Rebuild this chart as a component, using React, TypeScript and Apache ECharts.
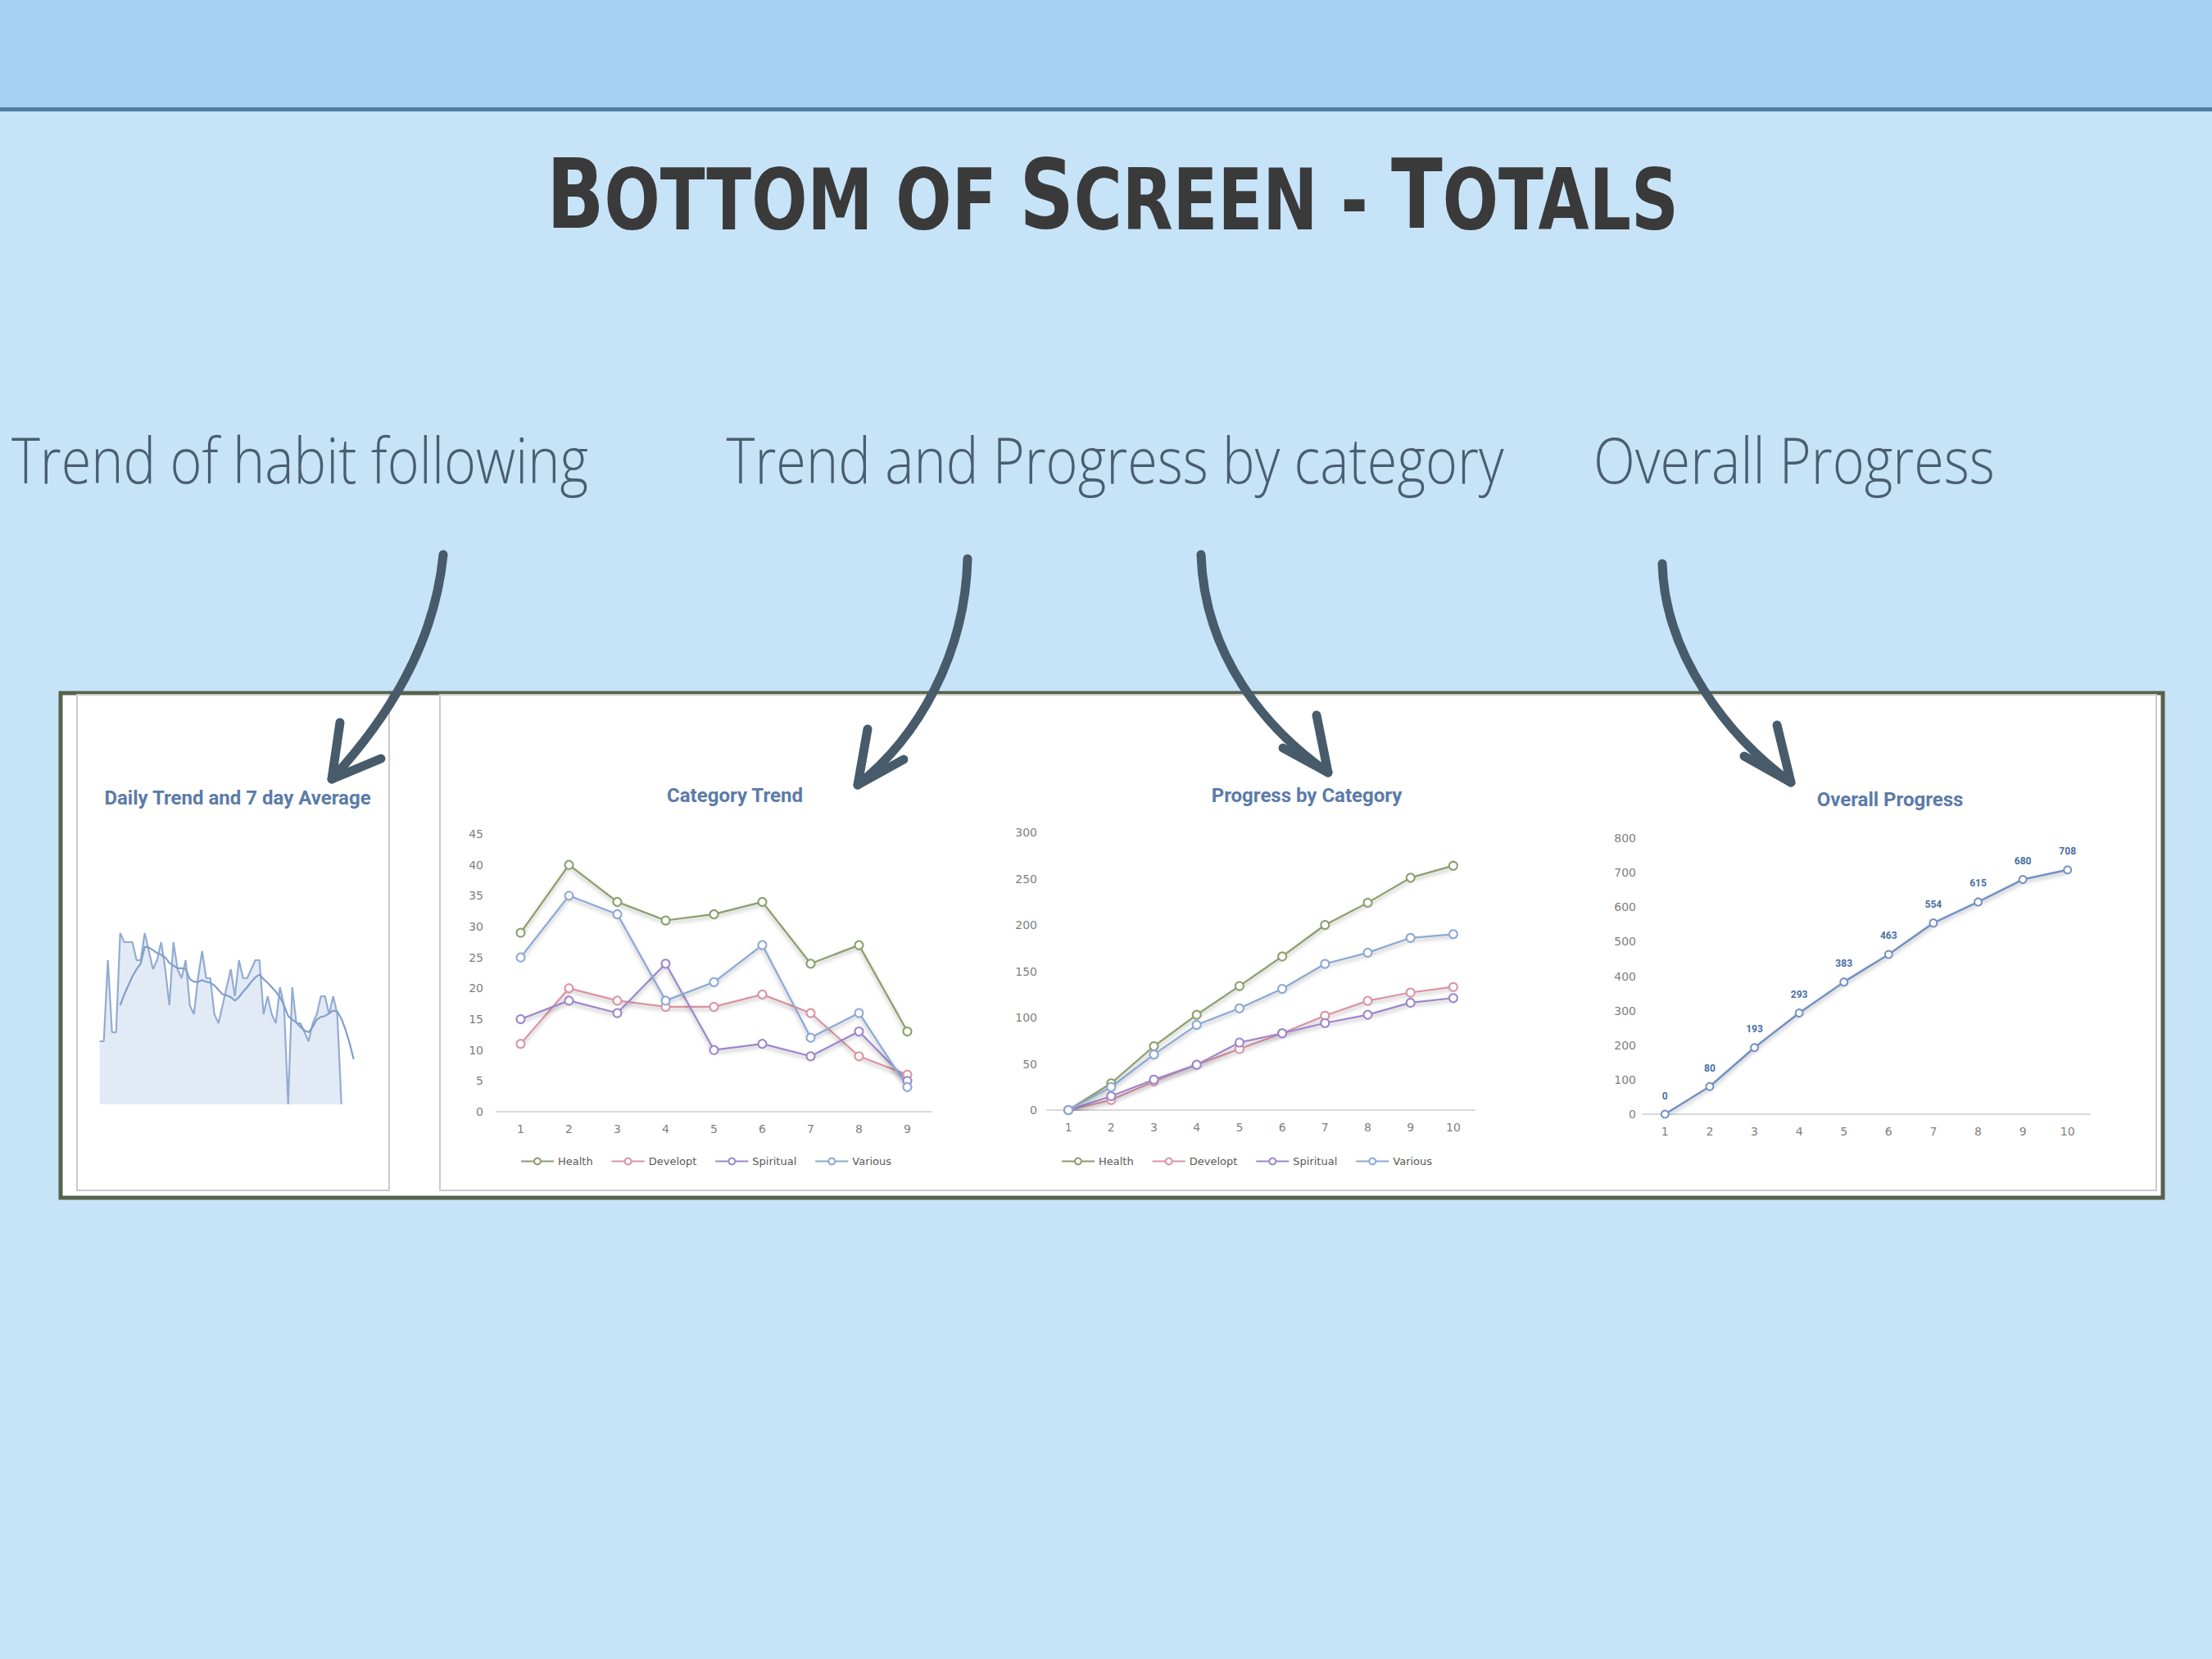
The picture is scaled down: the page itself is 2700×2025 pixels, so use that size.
import React, { useEffect, useRef } from 'react';
import * as echarts from 'echarts';

// ---------- DATA ----------
const DAY_LABELS = Array.from({ length: 63 }, (_, i) => String(i + 1));
const DAILY_TOTALS = [
  7, 7, 16, 8, 8, 19, 18, 18, 18, 16, 16, 19, 17, 15, 16, 18, 15, 11, 18, 15,
  14, 16, 11, 10, 14, 17, 14, 14, 10, 9, 11, 13, 15, 12, 16, 14, 14, 15, 16, 16,
  10, 12, 10, 9, 13, 11, 0, 13, 9, 9, 8, 7, 9, 10, 12, 12, 10, 12, 10, 0,
];
const SEVEN_DAY_AVG = [
  '-', '-', '-', '-', '-',
  11.0, 12.2, 13.2, 14.2, 15.0, 15.6, 17.5, 17.4, 17.1, 16.8, 16.6, 16.3, 15.7, 15.4, 15.1,
  15.1, 15.0, 13.9, 13.6, 13.6, 13.8, 13.6, 13.5, 13.2, 12.7, 12.2, 12.1, 11.9, 11.5, 11.9,
  12.5, 13.0, 13.6, 14.1, 14.4, 13.9, 13.5, 13.0, 12.5, 11.9, 11.0, 9.8, 9.4, 9.1, 8.6,
  8.2, 8.0, 8.6, 9.4, 9.7, 9.8, 10.1, 10.4, 10.3, 9.5, 8.3, 6.8, 5.0,
];

const WEEKS_9 = ['1', '2', '3', '4', '5', '6', '7', '8', '9'];
const WEEKS_10 = ['1', '2', '3', '4', '5', '6', '7', '8', '9', '10'];
const CATEGORY_NAMES = ['Health', 'Developt', 'Spiritual', 'Various'];

const TREND_HEALTH = [29, 40, 34, 31, 32, 34, 24, 27, 13];
const TREND_DEVELOPT = [11, 20, 18, 17, 17, 19, 16, 9, 6];
const TREND_SPIRITUAL = [15, 18, 16, 24, 10, 11, 9, 13, 5];
const TREND_VARIOUS = [25, 35, 32, 18, 21, 27, 12, 16, 4];

const PROG_HEALTH = [0, 29, 69, 103, 134, 166, 200, 224, 251, 264];
const PROG_DEVELOPT = [0, 11, 31, 49, 66, 83, 102, 118, 127, 133];
const PROG_SPIRITUAL = [0, 15, 33, 49, 73, 83, 94, 103, 116, 121];
const PROG_VARIOUS = [0, 25, 60, 92, 110, 131, 158, 170, 186, 190];

const OVERALL = [0, 80, 193, 293, 383, 463, 554, 615, 680, 708];

const TITLE_RICH = '{b|B}{s|OTTOM OF }{b|S}{s|CREEN - }{b|T}{s|OTALS}';
const SECTION_LABELS = ['Trend of habit following', 'Trend and Progress by category', 'Overall Progress'];
const CHART_TITLES = ['Daily Trend and 7 day Average', 'Category Trend', 'Progress by Category', 'Overall Progress'];

// ---------- STYLES ----------
const COLORS = ['#8A9E6A', '#D993A2', '#9C86CA', '#8AA8D6'];
const AXIS_LABEL = { color: '#7F7F7F', fontSize: 14, fontFamily: 'DejaVu Sans' };
const SHADOW = { shadowColor: 'rgba(0,0,0,0.3)', shadowBlur: 5, shadowOffsetY: 3 };

function catSeries(name: string, data: number[], color: string, xi: number) {
  return {
    type: 'line',
    name,
    xAxisIndex: xi,
    yAxisIndex: xi,
    data,
    color,
    symbol: 'emptyCircle',
    symbolSize: 10,
    lineStyle: { color, width: 2.2, ...SHADOW },
    itemStyle: { color, borderColor: color, borderWidth: 2 },
  };
}

function valueAxis(gi: number, max: number, interval: number, margin: number) {
  return {
    gridIndex: gi,
    type: 'value',
    min: 0,
    max,
    interval,
    splitLine: { show: false },
    axisLine: { show: false },
    axisTick: { show: false },
    axisLabel: { ...AXIS_LABEL, margin },
  };
}

function catAxis(gi: number, data: string[]) {
  return {
    gridIndex: gi,
    type: 'category',
    data,
    boundaryGap: true,
    axisLine: { lineStyle: { color: '#D9D9D9', width: 2 } },
    axisTick: { show: false },
    axisLabel: { ...AXIS_LABEL, margin: 14 },
  };
}

function arrow(p0: number[], c1: number[], c2: number[], p3: number[], armA: number[], armB: number[]) {
  const style = { stroke: '#475B6B', lineWidth: 11, lineCap: 'round', lineJoin: 'round', fill: null };
  return [
    {
      type: 'bezierCurve',
      z: 100,
      shape: { x1: p0[0], y1: p0[1], cpx1: c1[0], cpy1: c1[1], cpx2: c2[0], cpy2: c2[1], x2: p3[0], y2: p3[1] },
      style,
    },
    { type: 'polyline', z: 100, shape: { points: [armA, p3, armB] }, style },
  ];
}

function centeredText(text: string, x: number, y: number, fontSize: number, fontWeight: any, fill: string, fontFamily: string, scaleX = 1) {
  return {
    type: 'text',
    x,
    y,
    scaleX,
    z: 100,
    style: {
      text,
      fontSize,
      fontWeight,
      fontFamily,
      fill,
      align: 'center',
      verticalAlign: 'middle',
      textAlign: 'center',
      textVerticalAlign: 'middle',
    },
  };
}

export default function App() {
  const ref = useRef<HTMLDivElement>(null);

  useEffect(() => {
    if (!ref.current) return;
    const chart = echarts.init(ref.current, undefined, { renderer: 'svg' });

    const graphic: any[] = [
      { type: 'rect', z: 0, shape: { x: 0, y: 0, width: 2700, height: 131 }, style: { fill: '#A6D0F1' } },
      { type: 'rect', z: 0, shape: { x: 0, y: 131, width: 2700, height: 5 }, style: { fill: '#4C7FA7' } },
      { type: 'rect', z: 0, shape: { x: 74, y: 846, width: 2566, height: 616 }, style: { fill: '#FFFFFF', stroke: '#56634B', lineWidth: 5 } },
      { type: 'rect', z: 0, shape: { x: 94, y: 848, width: 381, height: 605 }, style: { fill: null, stroke: '#CACACA', lineWidth: 2 } },
      { type: 'rect', z: 0, shape: { x: 537, y: 848, width: 2095, height: 605 }, style: { fill: null, stroke: '#CACACA', lineWidth: 2 } },
      {
        type: 'text',
        x: 1358,
        y: 237,
        scaleX: 0.78,
        z: 100,
        style: {
          text: TITLE_RICH,
          align: 'center',
          verticalAlign: 'middle',
          textAlign: 'center',
          textVerticalAlign: 'middle',
          rich: {
            b: { fontSize: 118, fontWeight: 'bold', fontFamily: 'DejaVu Sans', fill: '#3A3A3A', verticalAlign: 'bottom' },
            s: { fontSize: 103, fontWeight: 'bold', fontFamily: 'DejaVu Sans', fill: '#3A3A3A', verticalAlign: 'bottom' },
          },
        },
      },
      centeredText(SECTION_LABELS[0], 366, 560, 77, 300, '#4A5E70', 'Open Sans', 0.865),
      centeredText(SECTION_LABELS[1], 1361, 560, 77, 300, '#4A5E70', 'Open Sans', 0.865),
      centeredText(SECTION_LABELS[2], 2190, 560, 77, 300, '#4A5E70', 'Open Sans', 0.865),
      centeredText(CHART_TITLES[0], 290, 974, 24, 'bold', '#5B7BA8', 'Roboto'),
      centeredText(CHART_TITLES[1], 897, 971, 24, 'bold', '#5B7BA8', 'Roboto'),
      centeredText(CHART_TITLES[2], 1595, 971, 24, 'bold', '#5B7BA8', 'Roboto'),
      centeredText(CHART_TITLES[3], 2307, 976, 24, 'bold', '#5B7BA8', 'Roboto'),
      ...arrow([541, 677], [530, 790], [470, 880], [405, 951], [415, 882], [465, 926]),
      ...arrow([1181, 682], [1178, 800], [1120, 900], [1047, 958], [1059, 890], [1103, 927]),
      ...arrow([1466, 677], [1470, 800], [1545, 890], [1621, 943], [1607, 873], [1566, 913]),
      ...arrow([2029, 688], [2032, 800], [2110, 900], [2186, 955], [2169, 885], [2129, 923]),
    ];

    const legendBase = {
      data: CATEGORY_NAMES,
      top: 1406,
      itemWidth: 40,
      itemHeight: 10,
      itemGap: 22,
      textStyle: { color: '#595959', fontSize: 13, fontFamily: 'DejaVu Sans' },
      selectedMode: false,
    };

    const option: any = {
      animation: false,
      backgroundColor: '#C7E3F8',
      graphic: { elements: graphic },
      legend: [
        { ...legendBase, left: 630 },
        { ...legendBase, left: 1290 },
      ],
      grid: [
        { left: 121.7, top: 1128, width: 310, height: 220 },
        { left: 606, top: 1018, width: 531, height: 339 },
        { left: 1278, top: 1016, width: 522, height: 339 },
        { left: 2005, top: 1023, width: 546, height: 337 },
      ],
      xAxis: [
        { gridIndex: 0, type: 'category', data: DAY_LABELS, boundaryGap: false, show: false },
        catAxis(1, WEEKS_9),
        catAxis(2, WEEKS_10),
        catAxis(3, WEEKS_10),
      ],
      yAxis: [
        { gridIndex: 0, type: 'value', min: 0, max: 20, show: false },
        valueAxis(1, 45, 5, 16),
        valueAxis(2, 300, 50, 12),
        valueAxis(3, 800, 100, 8),
      ],
      series: [
        {
          type: 'line',
          name: 'Daily',
          xAxisIndex: 0,
          yAxisIndex: 0,
          data: DAILY_TOTALS,
          symbol: 'none',
          lineStyle: { color: '#93ACD2', width: 2.2 },
          areaStyle: { color: '#E2EAF5', opacity: 1 },
        },
        {
          type: 'line',
          name: '7 day Average',
          xAxisIndex: 0,
          yAxisIndex: 0,
          data: SEVEN_DAY_AVG,
          symbol: 'none',
          lineStyle: { color: '#819FCB', width: 2.2 },
        },
        catSeries('Health', TREND_HEALTH, COLORS[0], 1),
        catSeries('Developt', TREND_DEVELOPT, COLORS[1], 1),
        catSeries('Spiritual', TREND_SPIRITUAL, COLORS[2], 1),
        catSeries('Various', TREND_VARIOUS, COLORS[3], 1),
        catSeries('Health', PROG_HEALTH, COLORS[0], 2),
        catSeries('Developt', PROG_DEVELOPT, COLORS[1], 2),
        catSeries('Spiritual', PROG_SPIRITUAL, COLORS[2], 2),
        catSeries('Various', PROG_VARIOUS, COLORS[3], 2),
        {
          type: 'line',
          name: 'Overall',
          xAxisIndex: 3,
          yAxisIndex: 3,
          data: OVERALL,
          symbol: 'emptyCircle',
          symbolSize: 9,
          lineStyle: { color: '#7291C2', width: 2.5, ...SHADOW },
          itemStyle: { color: '#7291C2', borderWidth: 2 },
          label: {
            show: true,
            position: 'top',
            distance: 11,
            color: '#4A6FA5',
            fontWeight: 'bold',
            fontSize: 12,
            fontFamily: 'Roboto',
          },
        },
      ],
    };

    chart.setOption(option);
    return () => chart.dispose();
  }, []);

  return <div ref={ref} style={{ position: 'absolute', left: 0, top: 0, width: 2700, height: 2025 }} />;
}
